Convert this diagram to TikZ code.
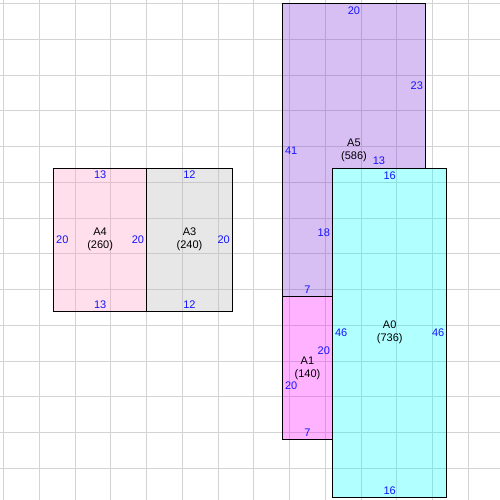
\documentclass[tikz,border=0pt]{standalone}
\usepackage{fontspec}
\setmainfont{Liberation Sans}
\begin{document}
\begin{tikzpicture}[x=5.3625pt,y=-5.3625pt,
  gridline/.style={draw=gridgray,line width=0.75pt},
  room/.style={draw=black,line width=0.75pt,fill opacity=0.3,draw opacity=1},
  dim/.style={text=dimblue,inner sep=0pt,font=\fontsize{8.25}{9.6}\selectfont},
  roomname/.style={text=black,inner sep=0pt,align=center,font=\fontsize{8.25}{9.6}\selectfont}]
\definecolor{gridgray}{RGB}{211,211,211}
\definecolor{dimblue}{RGB}{20,20,255}
\definecolor{cA0}{RGB}{0,255,255}
\definecolor{cA1}{RGB}{255,0,255}
\definecolor{cA3}{RGB}{178,178,178}
\definecolor{cA4}{RGB}{255,152,192}
\definecolor{cA5}{RGB}{125,45,218}
\useasboundingbox (-20.503,-20.517) rectangle (49.427,49.413);
\fill[white] (-20.503,-20.517) rectangle (49.427,49.413);
% grid
\begin{scope}
\clip (-20.503,-20.517) rectangle (49.427,49.413);
\foreach \g in {-20,-15,...,45} {
  \draw[gridline] (\g,-21) -- (\g,50);
  \draw[gridline] (-21,\g) -- (50,\g);
}
\end{scope}
% rooms
\path[room,fill=cA4] (-13,3) rectangle (0,23);
\path[room,fill=cA3] (0,3) rectangle (12,23);
\path[room,fill=cA5] (19,-20) -- (39,-20) -- (39,3) -- (26,3) -- (26,21) -- (19,21) -- cycle;
\path[room,fill=cA1] (19,21) rectangle (26,41);
\path[room,fill=cA0] (26,3) rectangle (42,49);
% A4
\node[roomname] (nA4) at (-6.5,13) {A4\\(260)};
\node[dim] (a4t) at (-6.5,3.97) {13};
\node[dim] (a4b) at (-6.5,22.05) {13};
\node[dim,anchor=west] (a4l) at (-12.68,13) {20};
\node[dim,anchor=east] (a4r) at (-0.32,13) {20};
% A3
\node[roomname] (nA3) at (6,13) {A3\\(240)};
\node[dim] (a3t) at (6,3.97) {12};
\node[dim] (a3b) at (6,22.05) {12};
\node[dim,anchor=east] (a3r) at (11.68,13) {20};
% A5
\node[roomname] (nA5) at (29,0.5) {A5\\(586)};
\node[dim] (a5t) at (29,-19.05) {20};
\node[dim,anchor=east] (a5r) at (38.68,-8.5) {23};
\node[dim,anchor=west] (a5l) at (19.32,0.5) {41};
\node[dim] (a5s) at (32.5,2.02) {13};
\node[dim,anchor=east] (a5i) at (25.68,12) {18};
\node[dim] (a5b) at (22.5,20.0) {7};
% A1
\node[roomname] (nA1) at (22.5,31) {A1\\(140)};
\node[dim,anchor=east] (a1r) at (25.68,28.55) {20};
\node[dim,anchor=west] (a1l) at (19.32,33.45) {20};
\node[dim] (a1b) at (22.5,40.05) {7};
% A0
\node[roomname] (nA0) at (34,26) {A0\\(736)};
\node[dim] (a0t) at (34,4.02) {16};
\node[dim,anchor=west] (a0l) at (26.32,26) {46};
\node[dim,anchor=east] (a0r) at (41.68,26) {46};
\node[dim] (a0b) at (34,48.1) {16};
\end{tikzpicture}
\end{document}
